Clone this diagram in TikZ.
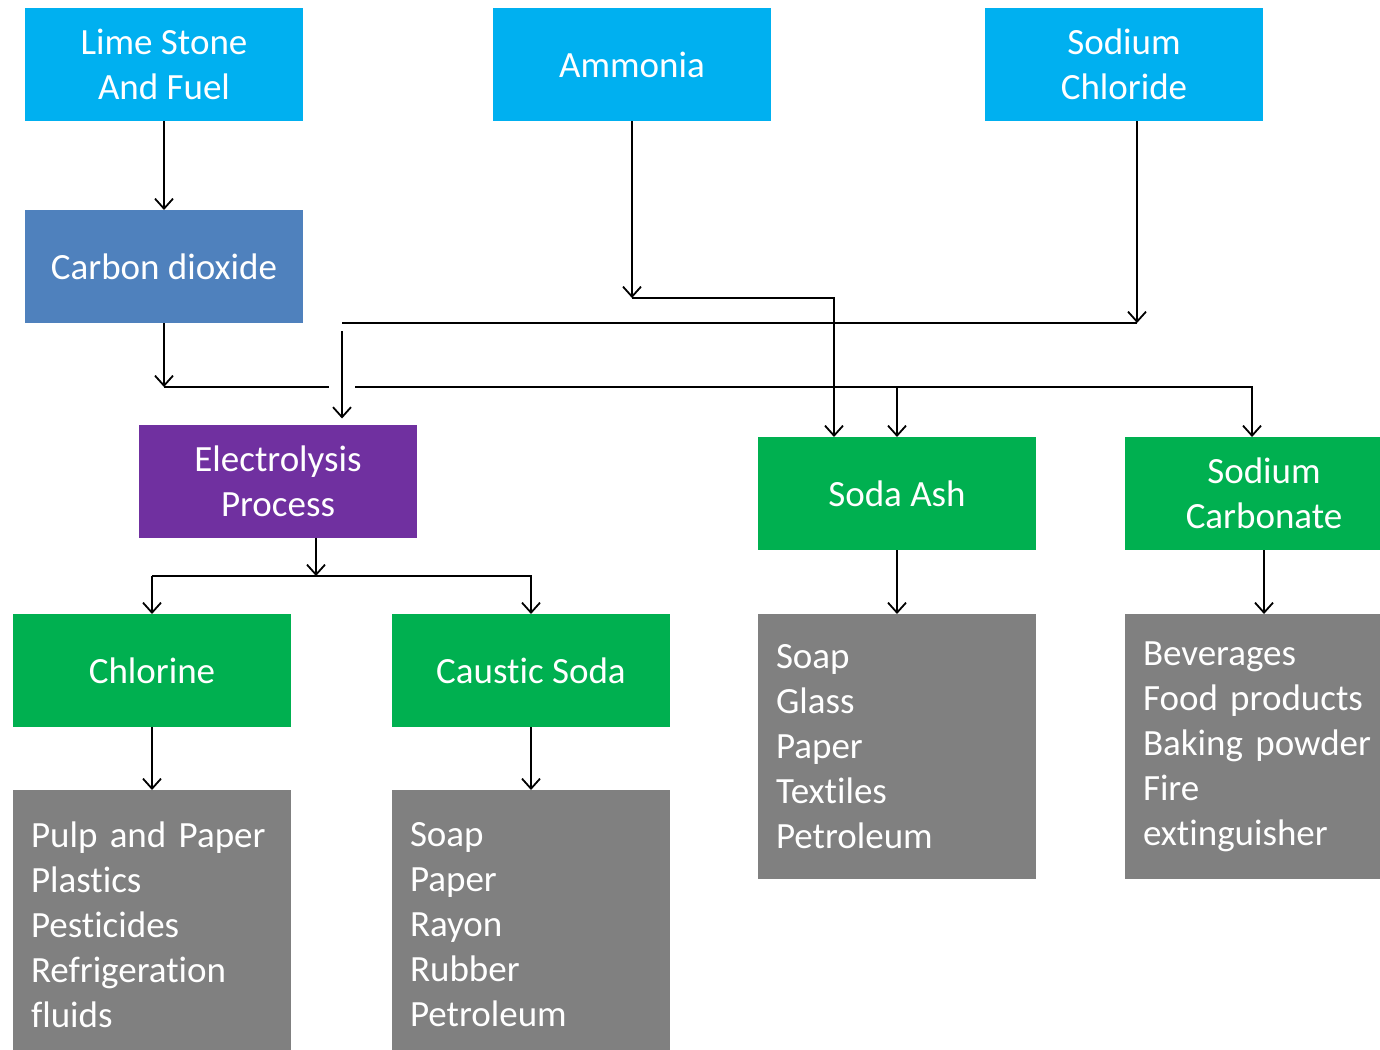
\documentclass[tikz,border=0pt]{standalone}
\usepackage{fontspec}
\setmainfont{Carlito}[Ligatures=NoCommon]
\usepackage{tikz}
\usetikzlibrary{arrows.meta,positioning,calc}

\begin{document}
\begin{tikzpicture}[x=1pt,y=-1pt,>={Straight Barb[length=10pt,width=18pt]},
			line width=1.8pt,
			box/.style = {shape=rectangle, text=white, align=center, inner sep=0pt, outer sep=0pt,
				minimum width=278pt, minimum height=113pt,
				font=\fontsize{37}{45}\selectfont},
			srcbox/.style = {box, fill={rgb,255:red,0;green,176;blue,240}},
			gasbox/.style = {box, fill={rgb,255:red,79;green,129;blue,189}},
			procbox/.style = {box, fill={rgb,255:red,112;green,48;blue,160}},
			prodbox/.style = {box, fill={rgb,255:red,0;green,176;blue,80}},
			usebox/.style = {box, fill={rgb,255:red,128;green,128;blue,128}, align=left,
				text width=242pt, inner xsep=18pt, minimum height=265pt}
			]
			\useasboundingbox (0,0) rectangle (1380,1049);
			\node [srcbox] at (164,64.5) (lime) {Lime Stone\\And Fuel};
			\node [srcbox] at (632,64.5) (ammonia) {Ammonia};
			\node [srcbox] at (1124,64.5) (nacl) {Sodium\\Chloride};
			\node [gasbox, below=89pt of lime] (co2) {Carbon dioxide};
			\node [procbox] at (278,481) (electro) {Electrolysis\\Process};
			\node [prodbox] at (897,493.5) (sodaash) {Soda Ash};
			\node [prodbox, right=89pt of sodaash] (nacarb) {Sodium\\Carbonate};
			\node [prodbox] at (152,670.5) (chlorine) {Chlorine};
			\node [prodbox, right=101pt of chlorine] (caustic) {Caustic Soda};
			\node [usebox, below=63pt of chlorine, minimum height=270pt] (chloruse) {Pulp and Paper\\Plastics\\Pesticides\\Refrigeration\\fluids};
			\node [usebox, below=63pt of caustic, minimum height=270pt] (causticuse) {Soap\\Paper\\Rayon\\Rubber\\Petroleum};
			\node [usebox, below=64pt of sodaash] (sodaashuse) {Soap\\Glass\\Paper\\Textiles\\Petroleum};
			\node [usebox, below=64pt of nacarb] (nacarbuse) {Beverages\\Food products\\Baking powder\\Fire\\extinguisher};
			% bus lines
			\coordinate (nh3bus) at (0,298);
			\coordinate (highbus) at (0,323);
			\coordinate (lowbus) at (0,387);
			\coordinate (splitbus) at (0,576);
			\coordinate (hopL) at (329,387);
			\coordinate (hopR) at (355,387);
			\coordinate (naclturn) at (342,323);
			\coordinate (naclout) at ([xshift=13pt]nacl.south);
			\draw[->] (lime) -- (co2);
			\draw[->] (co2) -- (co2 |- lowbus);
			\draw (co2 |- lowbus) -- (hopL);
			\draw[->] (hopR) -| ([xshift=-12pt]nacarb.north);
			\draw[->] (sodaash |- lowbus) -- (sodaash);
			\draw[->] (ammonia) -- (ammonia |- nh3bus);
			\draw[->] (ammonia |- nh3bus) -| ([xshift=-63pt]sodaash.north);
			\draw[->] (naclout) -- (naclout |- highbus);
			\draw (naclout |- highbus) -- (naclturn);
			\draw[->] ($(naclturn)+(0,8)$) -- ([xshift=64pt,yshift=6pt]electro.north);
			\draw[->] ([xshift=38pt]electro.south) -- ([xshift=38pt]electro.south |- splitbus);
			\draw[->] (chlorine |- splitbus) -- (chlorine);
			\draw[->] (chlorine |- splitbus) -| (caustic);
			\draw[->] (chlorine) -- (chloruse);
			\draw[->] (caustic) -- (causticuse);
			\draw[->] (sodaash) -- (sodaashuse);
			\draw[->] (nacarb) -- (nacarbuse);
		\end{tikzpicture}
\end{document}
